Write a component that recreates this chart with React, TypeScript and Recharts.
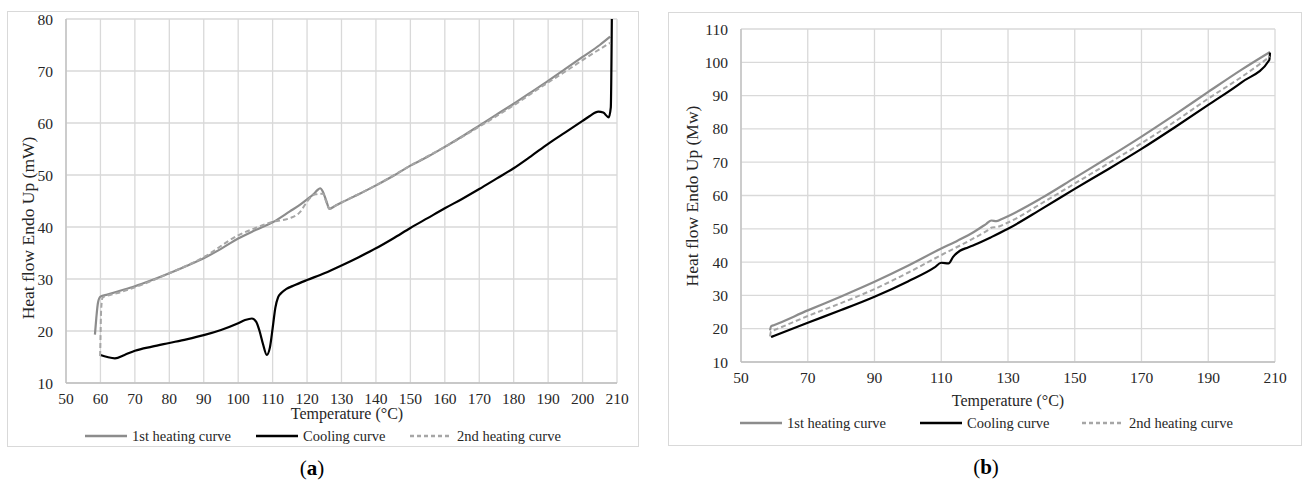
import React from 'react';
import { LineChart, Line, XAxis, YAxis, CartesianGrid } from 'recharts';

/* panel (a) */
const aTicksX = [50, 60, 70, 80, 90, 100, 110, 120, 130, 140, 150, 160, 170, 180, 190, 200, 210];
const aTicksY = [10, 20, 30, 40, 50, 60, 70, 80];

const aHeat1Temp = [58.4, 58.8, 59.3, 60, 62, 65, 70, 75, 80, 85, 90, 95, 100, 105, 110, 115, 118, 120, 122, 123, 123.8, 124.6, 125.6, 126.5, 128, 130, 135, 140, 145, 150, 155, 160, 165, 170, 175, 180, 185, 190, 195, 200, 205, 208];
const aHeat1Flow = [19.3, 22.5, 25.5, 26.6, 27.0, 27.6, 28.6, 29.8, 31.1, 32.5, 34.0, 35.8, 37.8, 39.4, 40.9, 43.0, 44.3, 45.3, 46.4, 47.1, 47.45, 46.8, 45.0, 43.5, 44.0, 44.7, 46.3, 48.0, 49.8, 51.8, 53.5, 55.4, 57.4, 59.5, 61.6, 63.7, 65.9, 68.1, 70.4, 72.7, 75.0, 76.6];

const aCoolTemp = [60, 62, 64.2, 67, 70, 75, 80, 85, 90, 95, 100, 102, 104, 105.2, 106.2, 107.2, 108.3, 109.2, 110, 110.8, 111.6, 112.5, 114, 116, 120, 125, 130, 135, 140, 145, 150, 155, 160, 165, 170, 175, 180, 185, 190, 195, 200, 202, 204.6, 206, 207.6, 208.2, 208.5];
const aCoolFlow = [15.4, 15.0, 14.75, 15.4, 16.2, 17.0, 17.7, 18.4, 19.2, 20.2, 21.5, 22.1, 22.4, 21.8, 20.0, 17.5, 15.4, 16.8, 20.5, 24.5, 26.5, 27.3, 28.1, 28.7, 29.8, 31.1, 32.6, 34.2, 35.9, 37.8, 39.8, 41.7, 43.6, 45.4, 47.3, 49.3, 51.3, 53.6, 56.0, 58.2, 60.4, 61.3, 62.2, 62.0, 61.1, 63, 80];

const aHeat2Temp = [59.9, 60.0, 60.2, 60.6, 62, 65, 70, 80, 90, 100, 105, 110, 115, 118, 120, 122, 122.8, 123.6, 124.6, 125.6, 126.5, 128, 130, 140, 150, 160, 170, 180, 190, 195, 200, 205, 208];
const aHeat2Flow = [15.2, 18, 24, 26.4, 26.8, 27.3, 28.4, 31.1, 34.2, 38.4, 39.8, 41.0, 41.7, 42.9, 44.9, 46.2, 46.3, 46.4, 46.4, 44.8, 43.5, 44.0, 44.7, 48.0, 51.8, 55.4, 59.3, 63.4, 67.8, 69.9, 72.1, 74.2, 75.4];

/* panel (b) */
const bTicksX = [50, 70, 90, 110, 130, 150, 170, 190, 210];
const bTicksY = [10, 20, 30, 40, 50, 60, 70, 80, 90, 100, 110];

const bHeat1Temp = [58.7, 59, 60, 70, 80, 90, 100, 110, 115, 120, 123.5, 125, 126.5, 128, 130, 140, 150, 160, 170, 180, 190, 200, 208.5];
const bHeat1Flow = [19.5, 20.7, 21.1, 25.5, 29.7, 34.1, 38.9, 44.1, 46.5, 49.2, 51.5, 52.5, 52.3, 52.9, 53.8, 59.2, 65.3, 71.4, 77.7, 84.3, 91.1, 97.8, 103.1];

const bCoolTemp = [59, 60, 70, 80, 90, 100, 108, 110, 112.2, 113.5, 115.6, 118, 120, 125, 130, 140, 150, 160, 170, 180, 190, 200, 208.3, 208.5];
const bCoolFlow = [17.5, 17.9, 21.8, 25.6, 29.6, 34.2, 38.4, 39.8, 39.6, 41.5, 43.4, 44.4, 45.2, 47.5, 50.0, 55.9, 62.0, 67.9, 74.0, 80.5, 87.2, 94.0, 100.7, 102.9];

const bHeat2Temp = [58.7, 59, 60, 70, 80, 90, 100, 110, 120, 124, 125.2, 126.5, 130, 140, 150, 160, 170, 180, 190, 200, 208.5];
const bHeat2Flow = [17.7, 19.2, 19.6, 23.8, 27.7, 31.9, 36.8, 42.1, 47.3, 49.6, 50.4, 50.5, 51.9, 57.6, 63.6, 69.6, 75.7, 82.2, 89.1, 95.6, 101.7];

const toRows = (temps: number[], flows: number[]) => temps.map((t, i) => ({ temp: t, flow: flows[i] }));

const FONT = '"Liberation Serif", "Times New Roman", serif';
const HEAT1 = '#8c8c8c';
const COOL = '#000000';
const HEAT2 = '#a6a6a6';
const TEXT = '#262626';

const tickStyle = { fill: TEXT, fontSize: 15.5, fontFamily: FONT };

const LegendItem = ({ x, y, color, dash, label }: { x: number; y: number; color: string; dash?: string; label: string }) => (
  <div style={{ position: 'absolute', left: x, top: y - 10, height: 20, display: 'flex', alignItems: 'center', whiteSpace: 'nowrap' }}>
    <svg width={44} height={20} style={{ display: 'block' }}>
      <line x1={1} y1={10} x2={43} y2={10} stroke={color} strokeWidth={2.5} strokeDasharray={dash} />
    </svg>
    <span style={{ fontSize: 14.5, fontFamily: FONT, color: TEXT, marginLeft: 4 }}>{label}</span>
  </div>
);

const Panel = ({
  left, top, chartW, chartH, margin, ticksX, ticksY, yDomain, heat1, cool, heat2,
}: any) => (
  <div style={{ position: 'absolute', left, top, fontFamily: FONT }}>
    <LineChart width={chartW} height={chartH} margin={margin} style={{ fontFamily: FONT }}>
      <CartesianGrid stroke="#d9d9d9" strokeWidth={1.3} />
      <XAxis
        dataKey="temp"
        type="number"
        domain={[50, 210]}
        ticks={ticksX}
        allowDataOverflow
        interval={0}
        height={30}
        tickLine={false}
        tickSize={0}
        tickMargin={10}
        axisLine={{ stroke: '#bfbfbf', strokeWidth: 1.3 }}
        tick={tickStyle}
      />
      <YAxis
        type="number"
        domain={yDomain}
        ticks={ticksY}
        allowDataOverflow
        interval={0}
        width={40}
        tickLine={false}
        tickSize={0}
        tickMargin={13}
        axisLine={{ stroke: '#bfbfbf', strokeWidth: 1.3 }}
        tick={tickStyle}
      />
      <Line data={heat1} dataKey="flow" type="monotoneX" stroke={HEAT1} strokeWidth={2.2} dot={false} isAnimationActive={false} />
      <Line data={cool} dataKey="flow" type="monotoneX" stroke={COOL} strokeWidth={2.2} dot={false} isAnimationActive={false} />
      <Line data={heat2} dataKey="flow" type="monotoneX" stroke={HEAT2} strokeWidth={2} strokeDasharray="5 3" dot={false} isAnimationActive={false} />
    </LineChart>
  </div>
);

export default function App() {
  return (
    <div style={{ position: 'absolute', left: 0, top: 0, width: 1304, height: 482, background: '#fff', overflow: 'hidden', fontFamily: FONT }}>
      {/* panel (a) frame */}
      <div style={{ position: 'absolute', left: 7, top: 11, width: 630, height: 434, border: '1px solid #d9d9d9' }} />
      <Panel
        left={0}
        top={0}
        chartW={640}
        chartH={420}
        margin={{ top: 19, right: 23, left: 26, bottom: 7 }}
        ticksX={aTicksX}
        ticksY={aTicksY}
        yDomain={[10, 80]}
        heat1={toRows(aHeat1Temp, aHeat1Flow)}
        cool={toRows(aCoolTemp, aCoolFlow)}
        heat2={toRows(aHeat2Temp, aHeat2Flow)}
      />
      <div style={{ position: 'absolute', left: 28, top: 228, transform: 'translate(-50%, -50%) rotate(-90deg)', fontSize: 17.5, whiteSpace: 'nowrap', color: TEXT }}>
        Heat flow Endo Up (mW)
      </div>
      <div style={{ position: 'absolute', left: 347, top: 414, transform: 'translate(-50%, -50%)', fontSize: 16, whiteSpace: 'nowrap', color: TEXT }}>
        Temperature (°C)
      </div>
      <LegendItem x={84} y={436} color={HEAT1} label="1st heating curve" />
      <LegendItem x={255} y={436} color={COOL} label="Cooling curve" />
      <LegendItem x={409} y={436} color={HEAT2} dash="4 3" label="2nd heating curve" />
      <div style={{ position: 'absolute', left: 312, top: 468, transform: 'translate(-50%, -50%)', fontSize: 21, whiteSpace: 'nowrap', color: '#000' }}>
        (<b>a</b>)
      </div>

      {/* panel (b) frame */}
      <div style={{ position: 'absolute', left: 668, top: 12, width: 632, height: 432, border: '1px solid #d9d9d9' }} />
      <Panel
        left={660}
        top={0}
        chartW={640}
        chartH={420}
        margin={{ top: 29, right: 25, left: 41, bottom: 28 }}
        ticksX={bTicksX}
        ticksY={bTicksY}
        yDomain={[10, 110]}
        heat1={toRows(bHeat1Temp, bHeat1Flow)}
        cool={toRows(bCoolTemp, bCoolFlow)}
        heat2={toRows(bHeat2Temp, bHeat2Flow)}
      />
      <div style={{ position: 'absolute', left: 692, top: 196, transform: 'translate(-50%, -50%) rotate(-90deg)', fontSize: 17.5, whiteSpace: 'nowrap', color: TEXT }}>
        Heat flow Endo Up (Mw)
      </div>
      <div style={{ position: 'absolute', left: 1008, top: 401, transform: 'translate(-50%, -50%)', fontSize: 16, whiteSpace: 'nowrap', color: TEXT }}>
        Temperature (°C)
      </div>
      <LegendItem x={739} y={423} color={HEAT1} label="1st heating curve" />
      <LegendItem x={919} y={423} color={COOL} label="Cooling curve" />
      <LegendItem x={1081} y={423} color={HEAT2} dash="4 3" label="2nd heating curve" />
      <div style={{ position: 'absolute', left: 986, top: 467, transform: 'translate(-50%, -50%)', fontSize: 21, whiteSpace: 'nowrap', color: '#000' }}>
        (<b>b</b>)
      </div>
    </div>
  );
}
